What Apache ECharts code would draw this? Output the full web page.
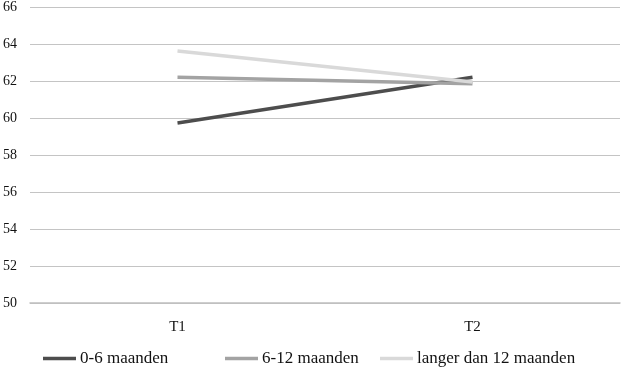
<!DOCTYPE html>
<html><head><meta charset="utf-8">
<script src="https://cdn.jsdelivr.net/npm/echarts@6/dist/echarts.min.js"></script>
<style>html,body{margin:0;padding:0;background:#fff}#c{width:626px;height:370px}</style>
</head><body><div id="c"></div>
<script>
const categories = ['T1', 'T2'];
const s06 = [59.73, 62.2];
const s612 = [62.2, 61.85];
const sLang = [63.62, 61.95];
const seriesNames = ['0-6 maanden', '6-12 maanden', 'langer dan 12 maanden'];
const colors = ['#4d4d4d', '#a3a3a3', '#d9d9d9'];
const legendLefts = [43, 225, 380];
const font = '"Liberation Serif", "DejaVu Serif", serif';
const chart = echarts.init(document.getElementById('c'));
const mk = (name, data, color) => ({
  name, type: 'line', data, symbol: 'none', color,
  lineStyle: { width: 3.5, color }
});
chart.setOption({
  animation: false,
  grid: { left: 27, right: 6, top: 7, bottom: 67 },
  xAxis: {
    type: 'category', data: categories, boundaryGap: true,
    axisLine: { show: true, lineStyle: { color: '#bfbfbf', width: 1.5 } },
    axisTick: { show: false },
    axisLabel: { color: '#111', fontFamily: font, fontSize: 15, margin: 17 }
  },
  yAxis: {
    type: 'value', min: 50, max: 66, interval: 2,
    axisLine: { show: false }, axisTick: { show: false },
    splitLine: { lineStyle: { color: '#c4c4c4', width: 1 } },
    axisLabel: { color: '#111', fontFamily: font, fontSize: 14, align: 'left', margin: 27 }
  },
  legend: seriesNames.map((n, i) => ({
    top: 350, left: legendLefts[i], padding: 0, itemWidth: 33, itemHeight: 3.5,
    icon: 'rect',
    textStyle: { color: '#111', fontFamily: font, fontSize: 17, padding: [0, 0, 0, -1] },
    data: [n]
  })),
  series: [mk(seriesNames[0], s06, colors[0]), mk(seriesNames[1], s612, colors[1]), mk(seriesNames[2], sLang, colors[2])]
});
</script></body></html>
